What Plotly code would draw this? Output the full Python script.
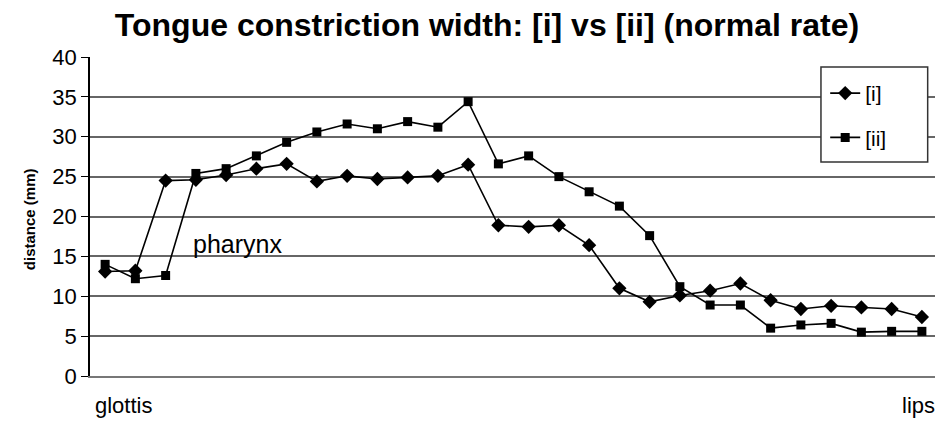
import plotly.graph_objects as go

# Posiciones a lo largo del tracto vocal (glotis -> labios)
posiciones = list(range(28))

# Ancho de constricción (mm)
serie_i = [13.1, 13.2, 24.5, 24.6, 25.2, 26.0, 26.6, 24.4, 25.1, 24.7,
           24.9, 25.1, 26.5, 18.9, 18.7, 18.9, 16.4, 11.0, 9.3, 10.1,
           10.7, 11.6, 9.5, 8.4, 8.8, 8.6, 8.4, 7.4]
serie_ii = [14.0, 12.2, 12.6, 25.4, 26.0, 27.6, 29.3, 30.6, 31.6, 31.0,
            31.9, 31.2, 34.4, 26.6, 27.6, 25.0, 23.1, 21.3, 17.6, 11.2,
            8.9, 8.9, 6.0, 6.4, 6.6, 5.5, 5.6, 5.6]

nombres = ['[i]', '[ii]']
y_ticks = [0, 5, 10, 15, 20, 25, 30, 35, 40]

fig = go.Figure()

fig.add_trace(go.Scatter(
    x=posiciones, y=serie_i, mode='lines+markers', name=nombres[0], legendgroup='a',
    line=dict(color='black', width=1.6),
    marker=dict(symbol='diamond', size=11, color='black')
))
fig.add_trace(go.Scatter(
    x=posiciones, y=serie_ii, mode='lines+markers', name=nombres[1], legendgroup='b',
    line=dict(color='black', width=1.6),
    marker=dict(symbol='square', size=9, color='black')
))

# La página tiene 8px de margen propio: la figura se reduce para compensar
fig.update_layout(
    width=935, height=413,
    margin=dict(l=82, r=6, t=49, b=45),
    paper_bgcolor='white', plot_bgcolor='white',
    font=dict(family='Liberation Sans, Arial', color='black'),
    title=dict(text='<b>Tongue constriction width: [i] vs [ii] (normal rate)</b>',
               x=(487 - 8) / 935, xanchor='center', y=1 - 17 / 413, yanchor='middle',
               font=dict(size=32, color='black')),
    legend=dict(x=0.868, y=0.95, xanchor='left', yanchor='top',
                bgcolor='rgba(0,0,0,0)', borderwidth=0,
                font=dict(size=21), tracegroupgap=14),
    showlegend=True,
)

fig.update_xaxes(
    range=[-0.5, 27.5], showticklabels=False, showgrid=False, zeroline=False,
    showline=True, linecolor='#777', linewidth=2, mirror=False,
)
fig.update_yaxes(
    range=[0, 40], tickvals=y_ticks, showgrid=True, gridcolor='#666', gridwidth=1.5,
    zeroline=False, showline=True, linecolor='black', linewidth=1.5,
    ticks='outside', ticklen=7, tickcolor='black', tickfont=dict(size=22),
)

# Borde derecho del área de trazado
fig.add_shape(type='line', xref='paper', yref='paper', x0=1, x1=1, y0=0, y1=1,
              line=dict(color='#333', width=1.5))
# Caja de la leyenda (más ancha que la que dibuja plotly)
fig.add_shape(type='rect', xref='paper', yref='paper', layer='above',
              x0=0.863, x1=0.989, y0=0.671, y1=0.969,
              fillcolor='white', line=dict(color='#333', width=1.5))

fig.add_annotation(text='<b>distance (mm)</b>', textangle=-90, xref='paper', yref='paper',
                   x=(19 - 90) / 847, y=0.49, showarrow=False, font=dict(size=15))
fig.add_annotation(text='pharynx', xref='x', yref='y', x=2.85, y=16.6, xanchor='left',
                   showarrow=False, font=dict(size=25))
fig.add_annotation(text='glottis', xref='paper', yref='paper', x=(93 - 90) / 847,
                   y=-29 / 319, xanchor='left', yanchor='middle', showarrow=False,
                   font=dict(size=22))
fig.add_annotation(text='lips', xref='paper', yref='paper', x=1, y=-29 / 319,
                   xanchor='right', yanchor='middle', showarrow=False, font=dict(size=22))

fig.write_html('out.html')
